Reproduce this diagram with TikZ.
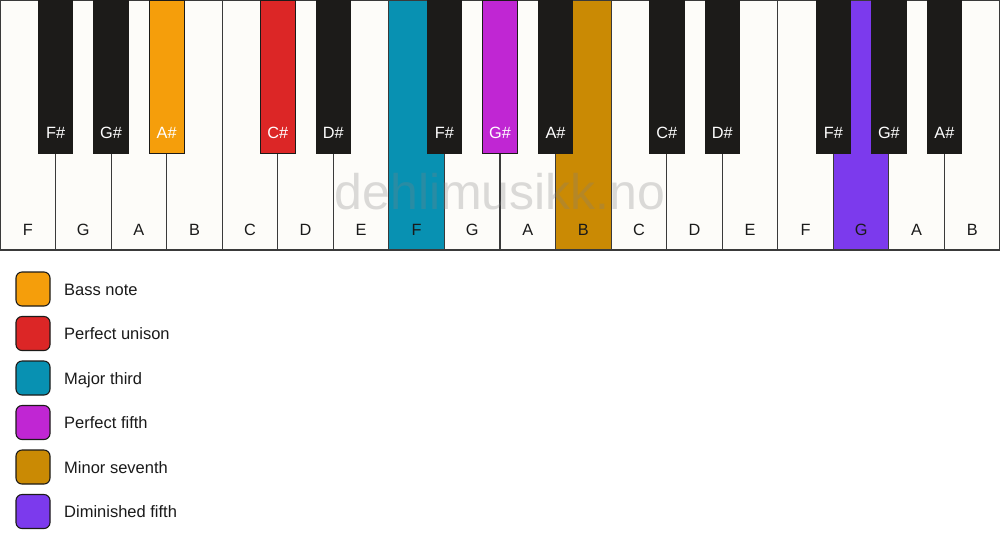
\documentclass[tikz,border=0pt]{standalone}
\usepackage{fontspec}
\setmainfont{Liberation Sans}
\definecolor{keywhite}{HTML}{FDFCF9}
\definecolor{keyblack}{HTML}{1C1B19}
\definecolor{keyline}{HTML}{3A3A3A}
\definecolor{cbass}{HTML}{F59E0B}
\definecolor{cunison}{HTML}{DC2626}
\definecolor{cthird}{HTML}{0891B2}
\definecolor{cfifth}{HTML}{C026D3}
\definecolor{cseventh}{HTML}{CA8A04}
\definecolor{cdim}{HTML}{7C3AED}
\definecolor{txt}{HTML}{1A1A1A}
\begin{document}
\begin{tikzpicture}[x=1pt,y=-1pt,
  whitekey/.style={draw=keyline, line width=1.1pt, minimum width=55.556pt, minimum height=250pt, inner sep=0pt, outer sep=0pt},
  blackkey/.style={draw=keyblack, line width=0.8pt, minimum width=34.5pt, minimum height=153pt, inner sep=0pt, outer sep=0pt},
  wlabel/.style={anchor=base, text=txt, font=\fontsize{16.3}{18}\selectfont, inner sep=0pt},
  blabel/.style={anchor=base, text=white, font=\fontsize{16.3}{18}\selectfont, inner sep=0pt},
  legbox/.style={draw=keyblack, line width=1.1pt, rounded corners=6pt, minimum width=34pt, minimum height=34pt, inner sep=0pt},
  legtext/.style={anchor=base west, text=txt, font=\fontsize{16.5}{18}\selectfont, inner sep=0pt},
  watermark/.style={text=gray, opacity=0.28, font=\fontsize{50}{52}\selectfont, inner sep=0pt}
]
\useasboundingbox (0,0) rectangle (1000,550);
\fill[white] (0,0) rectangle (1000,550);
% white keys
\foreach \i/\n/\c in {1/F/keywhite,2/G/keywhite,3/A/keywhite,4/B/keywhite,5/C/keywhite,6/D/keywhite,7/E/keywhite,8/F/cthird,9/G/keywhite,10/A/keywhite,11/B/cseventh,12/C/keywhite,13/D/keywhite,14/E/keywhite,15/F/keywhite,16/G/cdim,17/A/keywhite,18/B/keywhite}{
  \node[whitekey, fill=\c] (w\i) at ({(\i-0.5)*55.5556},125) {};
  \node[wlabel] (wl\i) at ({(\i-0.5)*55.5556},235) {\n};
}
% outer frame and bottom edge
\draw[keyline, line width=1.1pt] (0.6,249) -- (0.6,0.6) -- (999.4,0.6) -- (999.4,249);
\draw[keyline, line width=2.2pt] (w1.south west) -- (w18.south east);
% watermark
\node[watermark] (wm) at (500,192) {dehlimusikk.no};
% black keys
\foreach \k/\n/\c in {1/F\#/keyblack,2/G\#/keyblack,3/A\#/cbass,5/C\#/cunison,6/D\#/keyblack,8/F\#/keyblack,9/G\#/cfifth,10/A\#/keyblack,12/C\#/keyblack,13/D\#/keyblack,15/F\#/keyblack,16/G\#/keyblack,17/A\#/keyblack}{
  \node[blackkey, fill=\c] (b\k) at ({\k*55.5556},76.5) {};
  \node[blabel] (bl\k) at ({\k*55.5556},138) {\n};
}
% legend
\foreach \j/\c/\t in {0/cbass/Bass note,1/cunison/Perfect unison,2/cthird/Major third,3/cfifth/Perfect fifth,4/cseventh/Minor seventh,5/cdim/Diminished fifth}{
  \node[legbox, fill=\c] (lb\j) at (33,{289+\j*44.5}) {};
  \node[legtext] (lt\j) at (64,{295+\j*44.5}) {\t};
}
\end{tikzpicture}
\end{document}
